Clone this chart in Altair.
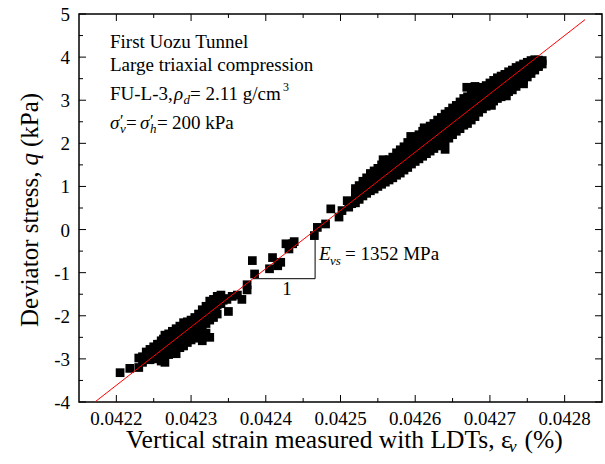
import altair as alt
import pandas as pd

FONT = "Liberation Serif"

# ---- data ----
# lower cluster + sparse middle points (strain %, stress kPa)
strain_low = [0.042205, 0.042218, 0.042230, 0.042230, 0.042235, 0.042235, 0.042240, 0.042240,
              0.042245, 0.042245, 0.042245, 0.042250, 0.042250, 0.042250, 0.042255, 0.042255, 0.042255,
              0.042260, 0.042260, 0.042260, 0.042260, 0.042265, 0.042265, 0.042265, 0.042265,
              0.042270, 0.042270, 0.042270, 0.042270, 0.042275, 0.042275, 0.042275, 0.042275,
              0.042280, 0.042280, 0.042280, 0.042280, 0.042285, 0.042285, 0.042285, 0.042285,
              0.042290, 0.042290, 0.042290, 0.042290, 0.042295, 0.042295, 0.042295, 0.042295,
              0.042300, 0.042300, 0.042300, 0.042300, 0.042305, 0.042305, 0.042305, 0.042305,
              0.042310, 0.042310, 0.042310, 0.042310, 0.042315, 0.042315, 0.042315, 0.042315,
              0.042320, 0.042320, 0.042320, 0.042320, 0.042325, 0.042325, 0.042325, 0.042325,
              0.042330, 0.042330, 0.042330, 0.042335, 0.042335, 0.042335, 0.042340, 0.042340,
              0.042345, 0.042350, 0.042355, 0.042362, 0.042368, 0.042375, 0.042375,
              0.042382, 0.042385, 0.042405, 0.042409, 0.042416, 0.042420, 0.042427, 0.042431,
              0.042436, 0.042438, 0.042465, 0.042469, 0.042480, 0.042487, 0.042498, 0.042502,
              0.042509, 0.042511, 0.042515,
              0.042248, 0.042258, 0.042263, 0.042268, 0.042273, 0.042278, 0.042283, 0.042288,
              0.042293, 0.042298, 0.042303, 0.042308, 0.042313, 0.042318, 0.042323, 0.042328,
              0.042333, 0.042338, 0.042343, 0.042348]
stress_low = [-3.32, -3.22, -3.20, -2.98, -2.95, -3.08, -2.84, -2.96,
              -2.78, -2.92, -3.02, -2.72, -2.86, -3.00, -2.66, -2.80, -2.95,
              -2.58, -2.74, -2.90, -3.05, -2.45, -2.62, -2.80, -3.08,
              -2.42, -2.58, -2.74, -2.90, -2.36, -2.52, -2.70, -2.86,
              -2.30, -2.46, -2.62, -2.88, -2.24, -2.40, -2.58, -2.74,
              -2.16, -2.34, -2.52, -2.70, -2.14, -2.30, -2.46, -2.62,
              -2.10, -2.26, -2.42, -2.56, -2.04, -2.20, -2.36, -2.52,
              -1.96, -2.14, -2.32, -2.50, -1.86, -2.06, -2.26, -2.58,
              -1.78, -1.98, -2.18, -2.40, -1.66, -1.88, -2.10, -2.50,
              -1.62, -1.84, -2.04, -1.55, -1.74, -1.96, -1.52, -1.72,
              -1.60, -1.90, -1.55, -1.52, -1.62, -1.28, -1.40,
              -0.72, -1.03, -0.91, -0.65, -0.84, -0.76, -0.33, -0.45,
              -0.33, -0.28, -0.14, 0.05, 0.13, 0.48, 0.29, 0.44,
              0.67, 0.52, 0.60,
              -2.80, -2.66, -2.54, -2.66, -2.62, -2.55, -2.50, -2.44,
              -2.40, -2.35, -2.30, -2.28, -2.18, -2.12, -2.00, -1.96,
              -1.86, -1.70, -1.64, -1.62]

# upper dense band: strain positions with stress readings across the band (top to bottom)
strain_band = [0.042520, 0.042525, 0.042530, 0.042535, 0.042540, 0.042545, 0.042550, 0.042555,
               0.042560, 0.042565, 0.042570, 0.042575, 0.042580, 0.042585, 0.042590, 0.042595,
               0.042600, 0.042605, 0.042610, 0.042615, 0.042620, 0.042625, 0.042630, 0.042635,
               0.042640, 0.042645, 0.042650, 0.042655, 0.042660, 0.042665, 0.042670, 0.042675,
               0.042680, 0.042685, 0.042690, 0.042695, 0.042700, 0.042705, 0.042710, 0.042715,
               0.042720, 0.042725, 0.042730, 0.042735, 0.042740, 0.042745, 0.042750, 0.042755,
               0.042760, 0.042765]
stress_band_1 = [0.95, 1.02, 1.12, 1.20, 1.30, 1.36, 1.42, 1.50, 1.55, 1.62, 1.68, 1.78, 1.85, 1.92,
                 2.02, 2.08, 2.14, 2.20, 2.28, 2.34, 2.40, 2.46, 2.54, 2.60, 2.68, 2.74, 2.82, 2.88,
                 2.96, 3.04, 3.08, 3.12, 3.20, 3.26, 3.30, 3.34, 3.40, 3.46, 3.52, 3.56, 3.60, 3.66,
                 3.70, 3.76, 3.80, 3.84, 3.88, 3.92, 3.94, 3.93]
stress_band_2 = [0.86, 0.94, 1.02, 1.10, 1.18, 1.24, 1.30, 1.38, 1.43, 1.50, 1.56, 1.65, 1.72, 1.79,
                 1.86, 1.94, 2.00, 2.06, 2.14, 2.20, 2.26, 2.33, 2.40, 2.47, 2.54, 2.60, 2.68, 2.74,
                 2.81, 2.89, 2.94, 2.99, 3.07, 3.13, 3.18, 3.23, 3.29, 3.35, 3.41, 3.46, 3.50, 3.56,
                 3.60, 3.66, 3.71, 3.75, 3.80, 3.84, 3.88, 3.90]
stress_band_3 = [0.78, 0.86, 0.92, 0.99, 1.06, 1.13, 1.19, 1.25, 1.31, 1.38, 1.44, 1.52, 1.58, 1.66,
                 1.71, 1.80, 1.86, 1.92, 2.00, 2.06, 2.12, 2.20, 2.26, 2.34, 2.40, 2.46, 2.54, 2.60,
                 2.66, 2.74, 2.80, 2.86, 2.94, 3.00, 3.06, 3.12, 3.18, 3.24, 3.30, 3.36, 3.40, 3.46,
                 3.50, 3.56, 3.62, 3.66, 3.72, 3.76, 3.82, 3.86]
stress_band_4 = [0.70, 0.78, 0.85, 0.91, 0.98, 1.04, 1.10, 1.15, 1.20, 1.26, 1.32, 1.39, 1.44, 1.52,
                 1.58, 1.66, 1.72, 1.78, 1.85, 1.91, 1.97, 2.04, 2.10, 2.17, 2.23, 2.29, 2.37, 2.44,
                 2.50, 2.58, 2.63, 2.70, 2.78, 2.86, 2.93, 2.99, 3.05, 3.11, 3.17, 3.22, 3.27, 3.33,
                 3.37, 3.44, 3.51, 3.56, 3.63, 3.69, 3.76, 3.82]
stress_band_5 = [0.62, 0.70, 0.78, 0.84, 0.90, 0.94, 1.00, 1.05, 1.10, 1.15, 1.20, 1.26, 1.31, 1.38,
                 1.44, 1.52, 1.58, 1.64, 1.70, 1.76, 1.82, 1.88, 1.94, 2.00, 2.06, 2.12, 2.20, 2.28,
                 2.34, 2.42, 2.46, 2.54, 2.62, 2.72, 2.80, 2.86, 2.92, 2.98, 3.04, 3.08, 3.14, 3.20,
                 3.24, 3.32, 3.40, 3.46, 3.54, 3.62, 3.70, 3.78]
# scattered points sticking out of the band
strain_extra = [0.042770, 0.042770, 0.042669, 0.042680, 0.042640, 0.042594, 0.042612, 0.042557,
                0.042702, 0.042722, 0.042745]
stress_extra = [3.92, 3.84, 3.30, 3.32, 1.86, 2.16, 2.36, 1.62, 2.88, 3.10, 3.38]

# fitted line (E_vs = 1352 MPa) end points
line_strain = [0.0421713, 0.0428273]
line_stress = [-4.0, 4.87]

# slope triangle
tri_x = [0.042383, 0.042466]
tri_y = [-1.14, -0.05]

x_major = [0.0422, 0.0423, 0.0424, 0.0425, 0.0426, 0.0427, 0.0428]
x_labels = ["0.0422", "0.0423", "0.0424", "0.0425", "0.0426", "0.0427", "0.0428"]
x_minor = [0.04225, 0.04235, 0.04245, 0.04255, 0.04265, 0.04275]
y_major = [-4, -3, -2, -1, 0, 1, 2, 3, 4, 5]
y_labels = ["-4", "-3", "-2", "-1", "0", "1", "2", "3", "4", "5"]
y_minor = [-3.5, -2.5, -1.5, -0.5, 0.5, 1.5, 2.5, 3.5, 4.5]

# ---- build tables ----
pts = pd.DataFrame({
    "strain": strain_low + strain_band * 5 + strain_extra,
    "stress": stress_low + stress_band_1 + stress_band_2 + stress_band_3 + stress_band_4
              + stress_band_5 + stress_extra,
})
line_df = pd.DataFrame({"strain": line_strain, "stress": line_stress})
tri_df = pd.DataFrame({
    "x": [tri_x[0], tri_x[1]], "x2": [tri_x[1], tri_x[1]],
    "y": [tri_y[0], tri_y[0]], "y2": [tri_y[0], tri_y[1]],
})
xlab_df = pd.DataFrame({"v": x_major, "t": x_labels})
ylab_df = pd.DataFrame({"v": y_major, "t": y_labels})
dummy = pd.DataFrame({"a": [0]})

W, H = 523, 388
L, T = 79, 14

xs = alt.Scale(domain=[0.04215, 0.04285], nice=False, zero=False)
ys = alt.Scale(domain=[-4, 5], nice=False, zero=False)

points = alt.Chart(pts).mark_square(size=76, color="black", opacity=1).encode(
    x=alt.X("strain:Q", scale=xs, axis=None),
    y=alt.Y("stress:Q", scale=ys, axis=None),
)

fit = alt.Chart(line_df).mark_line(color="#ff0000", strokeWidth=1).encode(
    x=alt.X("strain:Q", scale=xs, axis=None), y=alt.Y("stress:Q", scale=ys, axis=None))

tri = alt.Chart(tri_df).mark_rule(color="black", strokeWidth=1).encode(
    x=alt.X("x:Q", scale=xs, axis=None), x2="x2:Q",
    y=alt.Y("y:Q", scale=ys, axis=None), y2="y2:Q")

xlab = alt.Chart(xlab_df).mark_text(font=FONT, fontSize=19, color="black", align="center",
                                    baseline="alphabetic").encode(
    x=alt.X("v:Q", scale=xs, axis=None), y=alt.value(425 - T), text="t:N")
ylab = alt.Chart(ylab_df).mark_text(font=FONT, fontSize=19, color="black", align="right",
                                    baseline="middle", dy=1).encode(
    y=alt.Y("v:Q", scale=ys, axis=None), x=alt.value(70 - L), text="t:N")


def xticks(vals, length):
    d = pd.DataFrame({"v": vals})
    bot = alt.Chart(d).mark_rule(color="black", strokeWidth=1).encode(
        x=alt.X("v:Q", scale=xs, axis=None), y=alt.value(H), y2=alt.value(H - length))
    top = alt.Chart(d).mark_rule(color="black", strokeWidth=1).encode(
        x=alt.X("v:Q", scale=xs, axis=None), y=alt.value(0), y2=alt.value(length))
    return [bot, top]


def yticks(vals, length):
    d = pd.DataFrame({"v": vals})
    left = alt.Chart(d).mark_rule(color="black", strokeWidth=1).encode(
        y=alt.Y("v:Q", scale=ys, axis=None), x=alt.value(0), x2=alt.value(length))
    right = alt.Chart(d).mark_rule(color="black", strokeWidth=1).encode(
        y=alt.Y("v:Q", scale=ys, axis=None), x=alt.value(W), x2=alt.value(W - length))
    return [left, right]


def piece(txt, px, py, size=19, italic=False, angle=0, align="left"):
    kw = dict(text=txt, font=FONT, fontSize=size, fontStyle="italic" if italic else "normal",
              align=align, baseline="alphabetic", color="black")
    if angle:
        kw["angle"] = angle
    return alt.Chart(dummy).mark_text(**kw).encode(x=alt.value(px - L), y=alt.value(py - T))


texts = [
    piece("First Uozu Tunnel", 110, 47.5),
    piece("Large triaxial compression", 110, 71),
    piece("FU-L-3,", 110, 99.5),
    piece("ρ", 174, 99.5, italic=True),
    piece("d", 183.5, 103.5, size=13, italic=True),
    piece("= 2.11 g/cm", 190, 99.5),
    piece("3", 283, 91, size=12),
    piece("σ", 110, 128.5, italic=True),
    piece("′", 120, 126, size=16),
    piece("v", 120, 132.5, size=13, italic=True),
    piece("=", 126, 128.5),
    piece("σ", 140, 128.5, italic=True),
    piece("′", 150, 126, size=16),
    piece("h", 150, 132.5, size=13, italic=True),
    piece("=", 157, 128.5),
    piece("200 kPa", 172, 128.5),
    piece("E", 319, 260, italic=True),
    piece("vs", 330, 265, size=13, italic=True),
    piece("= 1352 MPa", 345, 260),
    piece("1", 287, 295, align="center"),
    # y title (rotated)
    piece("Deviator stress,", 38, 327, size=25, angle=270),
    piece("q", 38, 165.5, size=25, italic=True, angle=270),
    piece("(kPa)", 38, 147, size=25, angle=270),
    # x title
    piece("Vertical strain measured with LDTs, ε", 126, 448, size=25.5),
    piece("v", 509, 452, size=17, italic=True),
    piece("(%)", 524.5, 448, size=25.5),
]

layers = [points, fit, tri, xlab, ylab] + xticks(x_major, 7) + xticks(x_minor, 4) \
    + yticks(y_major, 7) + yticks(y_minor, 4) + texts

chart = alt.layer(*layers).properties(
    width=W, height=H,
    autosize=alt.AutoSizeParams(type="none"),
    padding={"left": L, "top": T, "right": 605 - L - W, "bottom": 464 - T - H},
).configure_view(stroke="black", strokeWidth=1.5)

chart.save("out.html", embed_options={"renderer": "svg", "actions": False})
